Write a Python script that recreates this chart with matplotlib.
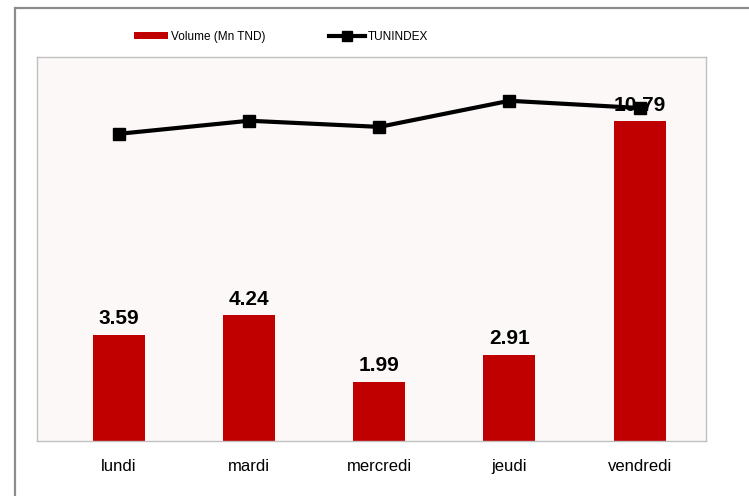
import matplotlib
matplotlib.use("Agg")
import matplotlib.pyplot as plt
from matplotlib.patches import Rectangle
from matplotlib.lines import Line2D
from matplotlib.patches import Patch

days = ["lundi", "mardi", "mercredi", "jeudi", "vendredi"]
volume = [3.59, 4.24, 1.99, 2.91, 10.79]
tunindex = [7000, 7085, 7045, 7215, 7168]

plt.rcParams['font.family'] = ['Liberation Sans', 'DejaVu Sans']

W, H = 749, 496
fig = plt.figure(figsize=(W / 100, H / 100), dpi=100)

# outer frame
fig.patches.append(Rectangle((15 / W, -0.05), 1.2, 1 - 8 / H + 0.05,
                             transform=fig.transFigure, fill=False,
                             edgecolor="#8c8c8c", linewidth=1.6))

left, right, top, bottom = 37, 706, 57, 441
ax = fig.add_axes([left / W, 1 - bottom / H, (right - left) / W, (bottom - top) / H])
ax.set_facecolor("#fcf8f8")
x = list(range(len(days)))
ax.bar(x, volume, width=0.4, color="#c00000", zorder=2)
ax.set_ylim(0, 12.95)
ax.set_xlim(-0.63, len(days) - 0.49)
ax.set_yticks([])
ax.set_xticks(x)
ax.set_xticklabels(days, fontsize=12)
ax.tick_params(axis="x", length=0, pad=13)
for s in ax.spines.values():
    s.set_color("#c0c0c0")
    s.set_linewidth(1)
for xi, v in zip(x, volume):
    ax.text(xi, v + 0.22, f"{v:.2f}", ha="center", va="bottom",
            fontsize=15, fontweight="bold", color="#000000")

ax2 = ax.twinx()
ax2.plot(x, tunindex, color="#000000", linewidth=3, marker="s",
         markersize=8.5, zorder=3)
ax2.set_ylim(5000, 7500)
ax2.set_yticks([])
for s in ax2.spines.values():
    s.set_visible(False)

fig.legend([Patch(facecolor="#c00000", edgecolor="none")], ["Volume (Mn TND)"],
           loc="center left", bbox_to_anchor=(123 / W, 1 - 37 / H),
           frameon=False, fontsize=8.5,
           handlelength=2.9, handleheight=0.5, handletextpad=0.3)
fig.legend([Line2D([0], [0], color="#000000", linewidth=3, marker="s", markersize=7)],
           ["TUNINDEX"], loc="center left", bbox_to_anchor=(318 / W, 1 - 37 / H),
           frameon=False, fontsize=8.5,
           handlelength=3.05, handletextpad=0.3)

fig.savefig("out.png", dpi=100)
